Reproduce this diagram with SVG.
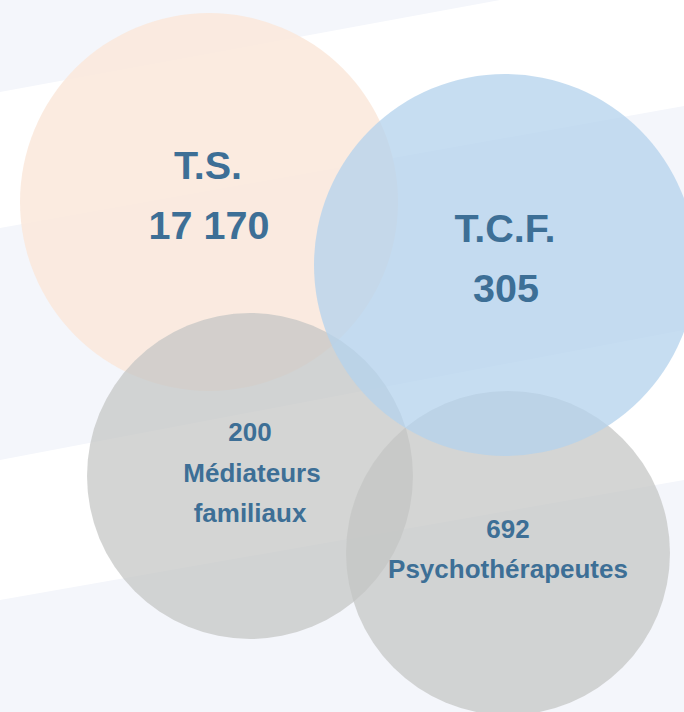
<svg xmlns="http://www.w3.org/2000/svg" width="684" height="712" viewBox="0 0 684 712">
<style>
.band{fill:#f4f6fb}
.big{font-family:"Liberation Sans",Arial,sans-serif;font-weight:bold;font-size:39.5px;fill:#3d6f96;text-anchor:middle}
.small{font-family:"Liberation Sans",Arial,sans-serif;font-weight:bold;font-size:26px;fill:#3d6f96;text-anchor:middle}
</style>
<rect width="684" height="712" fill="#ffffff"/>
<g id="background">
<polygon class="band" points="0,0 500,0 0,92"/>
<polygon class="band" points="0,228 684,106 684,330 0,460"/>
<polygon class="band" points="0,600 684,480 684,712 0,712"/>
</g>
<g id="ts">
<circle cx="209" cy="202" r="189" fill="rgb(250,232,219)" fill-opacity="0.85"/>
</g>
<g id="mediateurs">
<circle cx="250" cy="476" r="163" fill="rgb(196,197,195)" fill-opacity="0.72"/>
</g>
<g id="psycho">
<circle cx="508" cy="553" r="162" fill="rgb(196,197,195)" fill-opacity="0.72"/>
</g>
<g id="tcf">
<circle cx="505" cy="265" r="191" fill="rgb(180,210,237)" fill-opacity="0.76"/>
</g>
<g id="labels">
<text class="big" x="208" y="179">T.S.</text>
<text class="big" x="209" y="239">17 170</text>
<text class="big" x="505" y="242">T.C.F.</text>
<text class="big" x="506" y="302">305</text>
<text class="small" x="250" y="441">200</text>
<text class="small" x="252" y="482">Médiateurs</text>
<text class="small" x="250" y="522">familiaux</text>
<text class="small" x="508" y="538">692</text>
<text class="small" x="508" y="578">Psychothérapeutes</text>
</g>
</svg>
